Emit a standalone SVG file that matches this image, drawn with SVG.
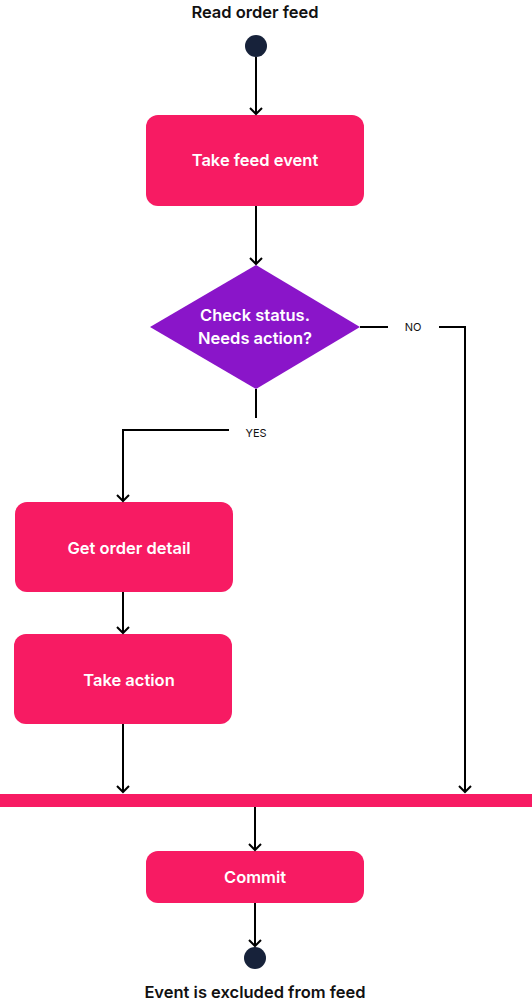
<svg xmlns="http://www.w3.org/2000/svg" width="532" height="1004" viewBox="0 0 532 1004">
<style>
.box{fill:#F71B63}
.dia{fill:#8A15C9}
.dot{fill:#17223A}
.lbl{font-family:Inter,"Liberation Sans",sans-serif;font-weight:600;font-size:16.5px;fill:#fff;text-anchor:middle}
.ttl{font-family:Inter,"Liberation Sans",sans-serif;font-weight:600;font-size:16.5px;fill:#111;text-anchor:middle}
.sm{font-family:Inter,"Liberation Sans",sans-serif;font-size:11px;fill:#111;text-anchor:middle}
.ln{fill:none;stroke:#000;stroke-width:2}
</style>
<defs>
<marker id="arr" viewBox="-8 -8 16 16" markerWidth="16" markerHeight="16" refX="0" refY="0" orient="auto" markerUnits="userSpaceOnUse">
<path d="M-6,-6 L0,0 L-6,6" fill="none" stroke="#000" stroke-width="2"/>
</marker>
</defs>
<rect width="532" height="1004" fill="#fff"/>
<g id="start">
<text class="ttl" x="255" y="18">Read order feed</text>
<circle class="dot" cx="256" cy="46" r="11"/>
</g>
<g id="take-feed-event">
<rect class="box" x="146" y="115" width="218" height="91" rx="12"/>
<text class="lbl" x="255" y="166">Take feed event</text>
</g>
<g id="check-status">
<polygon class="dia" points="256,265 360,327 256,389 150,327"/>
<text class="lbl" x="255" y="321">Check status.</text>
<text class="lbl" x="255" y="344">Needs action?</text>
</g>
<g id="get-order-detail">
<rect class="box" x="15" y="502" width="218" height="90" rx="12"/>
<text class="lbl" x="129" y="554">Get order detail</text>
</g>
<g id="take-action">
<rect class="box" x="14" y="634" width="218" height="90" rx="12"/>
<text class="lbl" x="129" y="686">Take action</text>
</g>
<g id="join-bar">
<rect class="box" x="0" y="794" width="532" height="13"/>
</g>
<g id="commit">
<rect class="box" x="146" y="851" width="218" height="52" rx="12"/>
<text class="lbl" x="255" y="883">Commit</text>
</g>
<g id="end">
<circle class="dot" cx="255" cy="958" r="11"/>
<text class="ttl" x="255" y="998">Event is excluded from feed</text>
</g>
<g id="connectors">
<path class="ln" d="M256,57 V114" marker-end="url(#arr)"/>
<path class="ln" d="M256,206 V264" marker-end="url(#arr)"/>
<path class="ln" d="M360,327 H388"/>
<text class="sm" x="413" y="331">NO</text>
<path class="ln" d="M439,327 H465 V792" marker-end="url(#arr)"/>
<path class="ln" d="M256,389 V418"/>
<text class="sm" x="256" y="437">YES</text>
<path class="ln" d="M229,430 H123 V501" marker-end="url(#arr)"/>
<path class="ln" d="M123,592 V633" marker-end="url(#arr)"/>
<path class="ln" d="M123,724 V792" marker-end="url(#arr)"/>
<path class="ln" d="M255,807 V850" marker-end="url(#arr)"/>
<path class="ln" d="M255,903 V946" marker-end="url(#arr)"/>
</g>
</svg>
